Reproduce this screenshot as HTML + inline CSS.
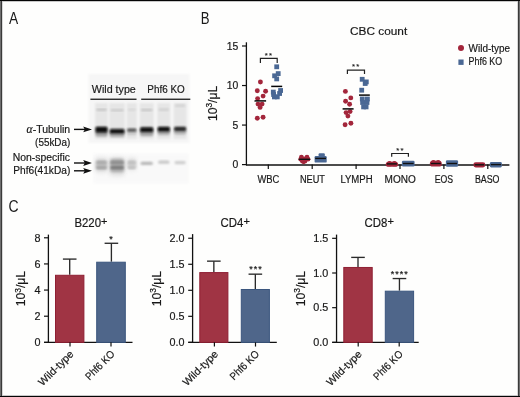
<!DOCTYPE html>
<html><head><meta charset="utf-8"><style>
html,body{margin:0;padding:0;background:#fefefd;overflow:hidden;}
svg{display:block;font-family:"Liberation Sans", sans-serif;will-change:transform;}
text{stroke:#111;stroke-width:0.18px;}
</style></head><body>
<svg width="520" height="397" viewBox="0 0 520 397">
<rect x="0" y="0" width="520" height="397" fill="#fefefd" />
<rect x="0" y="0" width="1" height="397" fill="#6e6e6e" />
<rect x="1" y="0" width="1" height="397" fill="#3a3a3a" />
<rect x="2" y="0" width="1" height="397" fill="#d8d8d8" />
<rect x="519" y="0" width="1" height="397" fill="#6e6e6e" />
<rect x="518" y="0" width="1" height="397" fill="#3a3a3a" />
<rect x="517" y="0" width="1" height="397" fill="#d8d8d8" />
<rect x="0" y="0" width="520" height="1" fill="#050505" />
<rect x="2" y="1" width="516" height="1" fill="#c8c8c8" />
<rect x="0" y="396" width="520" height="1" fill="#050505" />
<rect x="2" y="395" width="516" height="1" fill="#c8c8c8" />
<text x="9.07" y="23.8" font-size="15.8" text-anchor="start" fill="#1a1a1a" textLength="9.2" lengthAdjust="spacingAndGlyphs" style="stroke-width:0">A</text>
<text x="200.72" y="23.6" font-size="16.2" text-anchor="start" fill="#1a1a1a" textLength="8.8" lengthAdjust="spacingAndGlyphs" style="stroke-width:0">B</text>
<text x="8.45" y="211.5" font-size="16.2" text-anchor="start" fill="#1a1a1a" textLength="10.1" lengthAdjust="spacingAndGlyphs" style="stroke-width:0">C</text>
<defs><filter id="b1" x="-20%" y="-50%" width="140%" height="200%"><feGaussianBlur stdDeviation="1.2"/></filter><filter id="b2" x="-20%" y="-50%" width="140%" height="200%"><feGaussianBlur stdDeviation="2"/></filter><filter id="b4" x="-20%" y="-80%" width="140%" height="260%"><feGaussianBlur stdDeviation="1.5"/></filter><filter id="b5" x="-20%" y="-50%" width="140%" height="200%"><feGaussianBlur stdDeviation="0.85"/></filter><filter id="b3" x="-20%" y="-20%" width="140%" height="140%"><feGaussianBlur stdDeviation="0.8"/></filter></defs>
<rect x="88.5" y="74" width="101" height="69" fill="#f6f6f6" filter="url(#b3)"/>
<rect x="93.5" y="153.5" width="95.5" height="30" fill="#f9f9f9" filter="url(#b3)"/>
<rect x="95.10000000000001" y="103" width="12.799999999999988" height="36" fill="#e6e6e6" filter="url(#b1)"/>
<rect x="109.3" y="103" width="15.6" height="36" fill="#e6e6e6" filter="url(#b1)"/>
<rect x="126.7" y="103" width="10.199999999999994" height="36" fill="#e6e6e6" filter="url(#b1)"/>
<rect x="139.7" y="103" width="14.000000000000005" height="36" fill="#e6e6e6" filter="url(#b1)"/>
<rect x="157.29999999999998" y="103" width="13.000000000000005" height="36" fill="#e6e6e6" filter="url(#b1)"/>
<rect x="173.7" y="103" width="12.799999999999988" height="36" fill="#e6e6e6" filter="url(#b1)"/>
<rect x="96.4" y="108.6" width="10.199999999999989" height="2.4" rx="1" fill="#c6c6c6" filter="url(#b3)"/>
<rect x="110.6" y="109.0" width="13.0" height="2.4" rx="1" fill="#cbcbcb" filter="url(#b3)"/>
<rect x="128.0" y="108.6" width="7.599999999999994" height="2.4" rx="1" fill="#d8d8d8" filter="url(#b3)"/>
<rect x="141.0" y="108.8" width="11.400000000000006" height="2.4" rx="1" fill="#c6c6c6" filter="url(#b3)"/>
<rect x="158.6" y="108.4" width="10.400000000000006" height="2.4" rx="1" fill="#cdcdcd" filter="url(#b3)"/>
<rect x="175.0" y="104.4" width="10.199999999999989" height="2.4" rx="1" fill="#d0d0d0" filter="url(#b3)"/>
<rect x="95.4" y="126.5" width="12.199999999999989" height="10" rx="2" fill="#a0a0a0" filter="url(#b1)"/>
<rect x="109.6" y="128.5" width="15.0" height="8.5" rx="2" fill="#a8a8a8" filter="url(#b1)"/>
<rect x="127.0" y="128" width="9.599999999999994" height="7" rx="2" fill="#c4c4c4" filter="url(#b1)"/>
<rect x="140.0" y="127" width="13.400000000000006" height="9" rx="2" fill="#a0a0a0" filter="url(#b1)"/>
<rect x="157.6" y="126.5" width="12.400000000000006" height="8.5" rx="2" fill="#aaaaaa" filter="url(#b1)"/>
<rect x="174.0" y="126.5" width="12.199999999999989" height="8" rx="2" fill="#b0b0b0" filter="url(#b1)"/>
<rect x="95.7" y="127.0" width="11.599999999999989" height="5.6" rx="1.2" fill="#080808" filter="url(#b5)"/>
<rect x="109.89999999999999" y="129.2" width="14.4" height="4.4" rx="1.2" fill="#0e0e0e" filter="url(#b5)"/>
<rect x="127.3" y="128.7" width="8.999999999999995" height="2.8" rx="1.2" fill="#4a4a4a" filter="url(#b5)"/>
<rect x="140.3" y="127.5" width="12.800000000000006" height="4.6" rx="1.2" fill="#0c0c0c" filter="url(#b5)"/>
<rect x="157.9" y="127.0" width="11.800000000000006" height="4.6" rx="1.2" fill="#101010" filter="url(#b5)"/>
<rect x="174.3" y="127.0" width="11.599999999999989" height="4.0" rx="1.2" fill="#262626" filter="url(#b5)"/>
<rect x="95.4" y="157" width="12.199999999999989" height="16" rx="3" fill="#e6e6e6" filter="url(#b2)"/>
<rect x="109.6" y="157" width="15.0" height="19" rx="3" fill="#e0e0e0" filter="url(#b2)"/>
<rect x="127.0" y="157" width="9.599999999999994" height="14" rx="3" fill="#eaeaea" filter="url(#b2)"/>
<rect x="95.9" y="160" width="11.199999999999989" height="10" rx="2.5" fill="#bdbdbd" filter="url(#b4)"/>
<rect x="110.1" y="159" width="14.0" height="13" rx="2.5" fill="#a4a4a4" filter="url(#b4)"/>
<rect x="127.5" y="160" width="8.599999999999994" height="8.5" rx="2.5" fill="#cdcdcd" filter="url(#b4)"/>
<rect x="96.4" y="161.3" width="10.199999999999989" height="2.4" rx="1.2" fill="#a8a8a8" filter="url(#b3)"/>
<rect x="96.4" y="166.2" width="10.199999999999989" height="2.8" rx="1.2" fill="#a4a4a4" filter="url(#b3)"/>
<rect x="110.6" y="161.3" width="13.0" height="2.4" rx="1.2" fill="#8a8a8a" filter="url(#b3)"/>
<rect x="110.6" y="166.2" width="13.0" height="2.8" rx="1.2" fill="#787878" filter="url(#b3)"/>
<rect x="128.0" y="161.3" width="7.599999999999994" height="2.4" rx="1.2" fill="#bdbdbd" filter="url(#b3)"/>
<rect x="128.0" y="166.2" width="7.599999999999994" height="2.8" rx="1.2" fill="#c0c0c0" filter="url(#b3)"/>
<rect x="140.5" y="161.8" width="12.400000000000006" height="3.2" rx="1.6" fill="#b8b8b8" filter="url(#b1)"/>
<rect x="158.1" y="160.6" width="11.400000000000006" height="3.2" rx="1.6" fill="#c8c8c8" filter="url(#b1)"/>
<rect x="174.5" y="161.0" width="11.199999999999989" height="3.2" rx="1.6" fill="#cecece" filter="url(#b1)"/>
<text x="91.8" y="92.8" font-size="10.8" text-anchor="start" fill="#1a1a1a" textLength="44.0" lengthAdjust="spacingAndGlyphs" >Wild type</text>
<text x="147.3" y="92.8" font-size="10.8" text-anchor="start" fill="#1a1a1a" textLength="37.4" lengthAdjust="spacingAndGlyphs" >Phf6 KO</text>
<rect x="90.4" y="98.6" width="46.1" height="1.3" fill="#1a1a1a" />
<rect x="141.2" y="98.6" width="49.1" height="1.3" fill="#1a1a1a" />
<text x="70.2" y="132.7" font-size="10.4" text-anchor="end" fill="#1a1a1a" textLength="43.6" lengthAdjust="spacingAndGlyphs" ><tspan font-family="Liberation Serif" font-style="italic" font-size="11.5">&#945;</tspan>-Tubulin</text>
<text x="70.3" y="145.6" font-size="10.4" text-anchor="end" fill="#1a1a1a" textLength="35.2" lengthAdjust="spacingAndGlyphs" >(55kDa)</text>
<text x="70.0" y="161.3" font-size="10.4" text-anchor="end" fill="#1a1a1a" textLength="57.2" lengthAdjust="spacingAndGlyphs" >Non-specific</text>
<text x="70.3" y="174.1" font-size="10.4" text-anchor="end" fill="#1a1a1a" textLength="57.0" lengthAdjust="spacingAndGlyphs" >Phf6(41kDa)</text>
<line x1="74" y1="129.4" x2="88" y2="129.4" stroke="#111" stroke-width="1.4"/>
<path d="M92,129.4 L83.2,126.5 L84.8,129.4 L83.2,132.3 Z" fill="#111"/>
<line x1="74" y1="163.0" x2="88" y2="163.0" stroke="#111" stroke-width="1.4"/>
<path d="M92,163.0 L83.2,160.1 L84.8,163.0 L83.2,165.9 Z" fill="#111"/>
<line x1="74" y1="170.8" x2="88" y2="170.8" stroke="#111" stroke-width="1.4"/>
<path d="M92,170.8 L83.2,167.9 L84.8,170.8 L83.2,173.70000000000002 Z" fill="#111"/>
<text x="378.6" y="35.4" font-size="11.8" text-anchor="middle" fill="#1a1a1a" textLength="57.2" lengthAdjust="spacingAndGlyphs" >CBC count</text>
<line x1="246.4" y1="42.3" x2="246.4" y2="165.2" stroke="#111" stroke-width="1.3"/>
<line x1="242" y1="45.99499999999999" x2="246.4" y2="45.99499999999999" stroke="#111" stroke-width="1.2"/>
<text x="238.2" y="49.69499999999999" font-size="10.4" text-anchor="end" fill="#1a1a1a" >15</text>
<line x1="242" y1="85.53" x2="246.4" y2="85.53" stroke="#111" stroke-width="1.2"/>
<text x="238.2" y="89.23" font-size="10.4" text-anchor="end" fill="#1a1a1a" >10</text>
<line x1="242" y1="125.065" x2="246.4" y2="125.065" stroke="#111" stroke-width="1.2"/>
<text x="238.2" y="128.765" font-size="10.4" text-anchor="end" fill="#1a1a1a" >5</text>
<line x1="242" y1="164.6" x2="246.4" y2="164.6" stroke="#111" stroke-width="1.2"/>
<text x="238.2" y="168.29999999999998" font-size="10.4" text-anchor="end" fill="#1a1a1a" >0</text>
<line x1="246" y1="164.9" x2="509.4" y2="164.9" stroke="#111" stroke-width="1.5"/>
<line x1="268.3" y1="164.6" x2="268.3" y2="169" stroke="#111" stroke-width="1.2"/>
<text x="268.4" y="182.5" font-size="10" text-anchor="middle" fill="#1a1a1a" textLength="21.9" lengthAdjust="spacingAndGlyphs" >WBC</text>
<line x1="312.2" y1="164.6" x2="312.2" y2="169" stroke="#111" stroke-width="1.2"/>
<text x="312.4" y="182.5" font-size="10" text-anchor="middle" fill="#1a1a1a" textLength="25.0" lengthAdjust="spacingAndGlyphs" >NEUT</text>
<line x1="356.1" y1="164.6" x2="356.1" y2="169" stroke="#111" stroke-width="1.2"/>
<text x="356.5" y="182.5" font-size="10" text-anchor="middle" fill="#1a1a1a" textLength="32.2" lengthAdjust="spacingAndGlyphs" >LYMPH</text>
<line x1="400.0" y1="164.6" x2="400.0" y2="169" stroke="#111" stroke-width="1.2"/>
<text x="400.2" y="182.5" font-size="10" text-anchor="middle" fill="#1a1a1a" textLength="31.2" lengthAdjust="spacingAndGlyphs" >MONO</text>
<line x1="443.9" y1="164.6" x2="443.9" y2="169" stroke="#111" stroke-width="1.2"/>
<text x="443.9" y="182.5" font-size="10" text-anchor="middle" fill="#1a1a1a" textLength="18.4" lengthAdjust="spacingAndGlyphs" >EOS</text>
<line x1="487.8" y1="164.6" x2="487.8" y2="169" stroke="#111" stroke-width="1.2"/>
<text x="487.2" y="182.5" font-size="10" text-anchor="middle" fill="#1a1a1a" textLength="24.6" lengthAdjust="spacingAndGlyphs" >BASO</text>
<text transform="translate(216.7,103.4) rotate(-90)" font-size="12.2" text-anchor="middle" fill="#1a1a1a">10<tspan font-size="8.4" dy="-4.8">3</tspan><tspan dy="4.8">/&#956;L</tspan></text>
<circle cx="461" cy="48.1" r="3" fill="#a3263b"/>
<text x="468.6" y="51.6" font-size="10" text-anchor="start" fill="#1a1a1a" textLength="41.4" lengthAdjust="spacingAndGlyphs" >Wild-type</text>
<rect x="458.4" y="59.5" width="5.2" height="5.4" fill="#4a6894" />
<text x="468.6" y="65.2" font-size="10" text-anchor="start" fill="#1a1a1a" textLength="33.6" lengthAdjust="spacingAndGlyphs" >Phf6 KO</text>
<path d="M260.4,62.9 L260.4,58.4 L277.2,58.4 L277.2,62.9" fill="none" stroke="#222" stroke-width="1.2"/>
<text x="269.0" y="57.5" font-size="7.8" text-anchor="middle" fill="#1a1a1a" letter-spacing="1.1" style="stroke-width:0.1">**</text>
<path d="M347.4,74.0 L347.4,70.2 L364.5,70.2 L364.5,74.0" fill="none" stroke="#222" stroke-width="1.2"/>
<text x="356.2" y="69.1" font-size="7.8" text-anchor="middle" fill="#1a1a1a" letter-spacing="1.1" style="stroke-width:0.1">**</text>
<path d="M391.7,156.8 L391.7,153.5 L408.4,153.5 L408.4,156.8" fill="none" stroke="#222" stroke-width="1.2"/>
<text x="400.4" y="152.5" font-size="7.8" text-anchor="middle" fill="#1a1a1a" letter-spacing="1.1" style="stroke-width:0.1">**</text>
<circle cx="260.4" cy="82" r="2.45" fill="#a3263b"/>
<circle cx="257.3" cy="90.8" r="2.45" fill="#a3263b"/>
<circle cx="265.6" cy="91.2" r="2.45" fill="#a3263b"/>
<circle cx="263.1" cy="96.1" r="2.45" fill="#a3263b"/>
<circle cx="257.6" cy="98.6" r="2.45" fill="#a3263b"/>
<circle cx="258" cy="104.1" r="2.45" fill="#a3263b"/>
<circle cx="262.1" cy="104.1" r="2.45" fill="#a3263b"/>
<circle cx="260.1" cy="107.4" r="2.45" fill="#a3263b"/>
<circle cx="257.3" cy="118.2" r="2.45" fill="#a3263b"/>
<circle cx="263.1" cy="117.2" r="2.45" fill="#a3263b"/>
<line x1="254.5" y1="100.9" x2="266.1" y2="100.9" stroke="#050505" stroke-width="1.5"/>
<rect x="274.3" y="64.39999999999999" width="4.8" height="4.8" fill="#4a6894"/>
<rect x="275.8" y="71.19999999999999" width="4.8" height="4.8" fill="#4a6894"/>
<rect x="272.20000000000005" y="73.39999999999999" width="4.8" height="4.8" fill="#4a6894"/>
<rect x="274.3" y="76.5" width="4.8" height="4.8" fill="#4a6894"/>
<rect x="270.90000000000003" y="89.69999999999999" width="4.8" height="4.8" fill="#4a6894"/>
<rect x="271.20000000000005" y="92.1" width="4.8" height="4.8" fill="#4a6894"/>
<rect x="278.20000000000005" y="88.1" width="4.8" height="4.8" fill="#4a6894"/>
<rect x="277.20000000000005" y="91.1" width="4.8" height="4.8" fill="#4a6894"/>
<rect x="272.0" y="94.5" width="4.8" height="4.8" fill="#4a6894"/>
<rect x="274.90000000000003" y="94.5" width="4.8" height="4.8" fill="#4a6894"/>
<line x1="271.2" y1="86.4" x2="282.2" y2="86.4" stroke="#050505" stroke-width="1.5"/>
<circle cx="345.4" cy="91.4" r="2.45" fill="#a3263b"/>
<circle cx="350.8" cy="97.9" r="2.45" fill="#a3263b"/>
<circle cx="345.6" cy="101.2" r="2.45" fill="#a3263b"/>
<circle cx="349.6" cy="104.2" r="2.45" fill="#a3263b"/>
<circle cx="346.1" cy="112.6" r="2.45" fill="#a3263b"/>
<circle cx="350.1" cy="111.6" r="2.45" fill="#a3263b"/>
<circle cx="347.9" cy="116.1" r="2.45" fill="#a3263b"/>
<circle cx="345.1" cy="124.7" r="2.45" fill="#a3263b"/>
<circle cx="350.9" cy="123.2" r="2.45" fill="#a3263b"/>
<line x1="342.6" y1="108.9" x2="353.6" y2="108.9" stroke="#050505" stroke-width="1.5"/>
<rect x="359.8" y="76.89999999999999" width="4.8" height="4.8" fill="#4a6894"/>
<rect x="363.90000000000003" y="79.5" width="4.8" height="4.8" fill="#4a6894"/>
<rect x="362.8" y="81.1" width="4.8" height="4.8" fill="#4a6894"/>
<rect x="359.3" y="87.8" width="4.8" height="4.8" fill="#4a6894"/>
<rect x="359.90000000000003" y="96.6" width="4.8" height="4.8" fill="#4a6894"/>
<rect x="365.0" y="96.6" width="4.8" height="4.8" fill="#4a6894"/>
<rect x="360.20000000000005" y="100.1" width="4.8" height="4.8" fill="#4a6894"/>
<rect x="364.6" y="100.1" width="4.8" height="4.8" fill="#4a6894"/>
<rect x="361.20000000000005" y="104.5" width="4.8" height="4.8" fill="#4a6894"/>
<rect x="363.70000000000005" y="104.5" width="4.8" height="4.8" fill="#4a6894"/>
<line x1="359" y1="95.1" x2="369.8" y2="95.1" stroke="#050505" stroke-width="1.5"/>
<circle cx="301.4" cy="157.2" r="2.4" fill="#a3263b"/>
<circle cx="307.0" cy="157.2" r="2.4" fill="#a3263b"/>
<circle cx="300.6" cy="159.3" r="2.3" fill="#a3263b"/>
<circle cx="303.4" cy="158.9" r="2.3" fill="#a3263b"/>
<circle cx="305.4" cy="158.9" r="2.3" fill="#a3263b"/>
<circle cx="308.1" cy="159.3" r="2.3" fill="#a3263b"/>
<circle cx="302.3" cy="161.2" r="2.2" fill="#a3263b"/>
<circle cx="305.1" cy="161.2" r="2.2" fill="#a3263b"/>
<circle cx="303.6" cy="162.6" r="1.7" fill="#a3263b"/>
<line x1="298.8" y1="159.3" x2="310.2" y2="159.3" stroke="#111" stroke-width="1.4"/>
<rect x="314.6" y="156.0" width="12.1" height="6.6" fill="#4a6894" rx="1.2"/>
<rect x="318.6" y="153.2" width="6.2" height="4.0" fill="#4a6894" rx="1"/>
<line x1="315.2" y1="158.4" x2="326.0" y2="158.4" stroke="#111" stroke-width="1.4"/>
<rect x="385.8" y="161.7" width="12.300000000000011" height="5.100000000000017" fill="#a3263b" rx="2.5500000000000087"/>
<circle cx="389.49" cy="163.7" r="2.6" fill="#a3263b"/>
<circle cx="394.41" cy="163.7" r="2.6" fill="#a3263b"/>
<line x1="386.9" y1="163.9" x2="396.9" y2="163.9" stroke="#111" stroke-width="1.4"/>
<rect x="401.9" y="160.8" width="12.700000000000045" height="5.799999999999983" fill="#4a6894" rx="1.3"/>
<line x1="403.0" y1="163.5" x2="413.6" y2="163.5" stroke="#111" stroke-width="1.4"/>
<rect x="429.8" y="160.7" width="12.0" height="5.9" fill="#a3263b" rx="2.95"/>
<circle cx="433.40000000000003" cy="162.7" r="2.6" fill="#a3263b"/>
<circle cx="438.2" cy="162.7" r="2.6" fill="#a3263b"/>
<line x1="430.8" y1="163.5" x2="440.8" y2="163.5" stroke="#111" stroke-width="1.4"/>
<rect x="445.9" y="160.3" width="12.200000000000045" height="6.5" fill="#4a6894" rx="1.3"/>
<line x1="447.0" y1="163.5" x2="457.0" y2="163.5" stroke="#111" stroke-width="1.4"/>
<rect x="473.4" y="162.2" width="11.900000000000034" height="5.200000000000017" fill="#a3263b" rx="2.3000000000000087"/>
<line x1="474.6" y1="164.8" x2="484.2" y2="164.8" stroke="#111" stroke-width="1.4"/>
<rect x="489.9" y="162.0" width="11.900000000000034" height="5.400000000000006" fill="#4a6894" rx="1.3"/>
<line x1="490.8" y1="164.6" x2="501.0" y2="164.6" stroke="#111" stroke-width="1.4"/>
<line x1="48.4" y1="234.6" x2="48.4" y2="342.95000000000005" stroke="#111" stroke-width="1.3"/>
<line x1="44.1" y1="342.35" x2="132.5" y2="342.35" stroke="#111" stroke-width="1.4"/>
<line x1="44.0" y1="342.35" x2="48.4" y2="342.35" stroke="#111" stroke-width="1.2"/>
<text x="40.6" y="346.15000000000003" font-size="10.8" text-anchor="end" fill="#1a1a1a" >0</text>
<line x1="44.0" y1="316.21000000000004" x2="48.4" y2="316.21000000000004" stroke="#111" stroke-width="1.2"/>
<text x="40.6" y="320.01000000000005" font-size="10.8" text-anchor="end" fill="#1a1a1a" >2</text>
<line x1="44.0" y1="290.07000000000005" x2="48.4" y2="290.07000000000005" stroke="#111" stroke-width="1.2"/>
<text x="40.6" y="293.87000000000006" font-size="10.8" text-anchor="end" fill="#1a1a1a" >4</text>
<line x1="44.0" y1="263.93" x2="48.4" y2="263.93" stroke="#111" stroke-width="1.2"/>
<text x="40.6" y="267.73" font-size="10.8" text-anchor="end" fill="#1a1a1a" >6</text>
<line x1="44.0" y1="237.79000000000002" x2="48.4" y2="237.79000000000002" stroke="#111" stroke-width="1.2"/>
<text x="40.6" y="241.59000000000003" font-size="10.8" text-anchor="end" fill="#1a1a1a" >8</text>
<text x="74.4" y="227.0" font-size="12" fill="#1a1a1a" textLength="26.599999999999994" lengthAdjust="spacingAndGlyphs">B220</text>
<text x="101.1" y="224.7" font-size="11" fill="#1a1a1a">+</text>
<text transform="translate(25.4,288.6) rotate(-90)" font-size="12.2" text-anchor="middle" fill="#1a1a1a">10<tspan font-size="8.4" dy="-4.8">3</tspan><tspan dy="4.8">/&#956;L</tspan></text>
<line x1="69.7" y1="259.0941" x2="69.7" y2="274.7781" stroke="#2a2a2a" stroke-width="1.35"/>
<line x1="62.900000000000006" y1="259.0941" x2="76.5" y2="259.0941" stroke="#2a2a2a" stroke-width="1.35"/>
<rect x="55.5" y="275.2781" width="28.400000000000006" height="67.07190000000003" fill="#a03444" stroke="#8f1f33" stroke-width="1"/>
<line x1="70" y1="342.35" x2="70" y2="346.55" stroke="#111" stroke-width="1.2"/>
<line x1="111.4" y1="243.2794" x2="111.4" y2="261.7081" stroke="#2a2a2a" stroke-width="1.35"/>
<line x1="104.60000000000001" y1="243.2794" x2="118.2" y2="243.2794" stroke="#2a2a2a" stroke-width="1.35"/>
<rect x="96.7" y="262.2081" width="28.599999999999994" height="80.14190000000002" fill="#4f668a" stroke="#3b567e" stroke-width="1"/>
<line x1="111" y1="342.35" x2="111" y2="346.55" stroke="#111" stroke-width="1.2"/>
<text x="111.5" y="241.5" font-size="9" text-anchor="middle" fill="#1a1a1a" letter-spacing="1.0">*</text>
<line x1="192.6" y1="234.1" x2="192.6" y2="342.95000000000005" stroke="#111" stroke-width="1.3"/>
<line x1="188.29999999999998" y1="342.35" x2="276.8" y2="342.35" stroke="#111" stroke-width="1.4"/>
<line x1="188.2" y1="342.35" x2="192.6" y2="342.35" stroke="#111" stroke-width="1.2"/>
<text x="184.4" y="346.15000000000003" font-size="10.8" text-anchor="end" fill="#1a1a1a" >0.0</text>
<line x1="188.2" y1="316.32500000000005" x2="192.6" y2="316.32500000000005" stroke="#111" stroke-width="1.2"/>
<text x="184.4" y="320.12500000000006" font-size="10.8" text-anchor="end" fill="#1a1a1a" >0.5</text>
<line x1="188.2" y1="290.3" x2="192.6" y2="290.3" stroke="#111" stroke-width="1.2"/>
<text x="184.4" y="294.1" font-size="10.8" text-anchor="end" fill="#1a1a1a" >1.0</text>
<line x1="188.2" y1="264.27500000000003" x2="192.6" y2="264.27500000000003" stroke="#111" stroke-width="1.2"/>
<text x="184.4" y="268.07500000000005" font-size="10.8" text-anchor="end" fill="#1a1a1a" >1.5</text>
<line x1="188.2" y1="238.25000000000003" x2="192.6" y2="238.25000000000003" stroke="#111" stroke-width="1.2"/>
<text x="184.4" y="242.05000000000004" font-size="10.8" text-anchor="end" fill="#1a1a1a" >2.0</text>
<text x="220.5" y="227.0" font-size="12" fill="#1a1a1a" textLength="22.80000000000001" lengthAdjust="spacingAndGlyphs">CD4</text>
<text x="243.4" y="224.7" font-size="11" fill="#1a1a1a">+</text>
<text transform="translate(160.9,288.6) rotate(-90)" font-size="12.2" text-anchor="middle" fill="#1a1a1a">10<tspan font-size="8.4" dy="-4.8">3</tspan><tspan dy="4.8">/&#956;L</tspan></text>
<line x1="213.85000000000002" y1="261.15200000000004" x2="213.85000000000002" y2="272.08250000000004" stroke="#2a2a2a" stroke-width="1.35"/>
<line x1="207.05" y1="261.15200000000004" x2="220.65000000000003" y2="261.15200000000004" stroke="#2a2a2a" stroke-width="1.35"/>
<rect x="199.8" y="272.58250000000004" width="28.099999999999994" height="69.76749999999998" fill="#a03444" stroke="#8f1f33" stroke-width="1"/>
<line x1="214.4" y1="342.35" x2="214.4" y2="346.55" stroke="#111" stroke-width="1.2"/>
<line x1="255.35" y1="274.16450000000003" x2="255.35" y2="288.99875000000003" stroke="#2a2a2a" stroke-width="1.35"/>
<line x1="248.54999999999998" y1="274.16450000000003" x2="262.15" y2="274.16450000000003" stroke="#2a2a2a" stroke-width="1.35"/>
<rect x="241.3" y="289.49875000000003" width="28.099999999999966" height="52.85124999999999" fill="#4f668a" stroke="#3b567e" stroke-width="1"/>
<line x1="255.5" y1="342.35" x2="255.5" y2="346.55" stroke="#111" stroke-width="1.2"/>
<text x="255.9" y="272.4" font-size="9" text-anchor="middle" fill="#1a1a1a" letter-spacing="1.0">***</text>
<line x1="336.55" y1="234.6" x2="336.55" y2="342.95000000000005" stroke="#111" stroke-width="1.3"/>
<line x1="332.25" y1="342.35" x2="418.7" y2="342.35" stroke="#111" stroke-width="1.4"/>
<line x1="332.15000000000003" y1="342.35" x2="336.55" y2="342.35" stroke="#111" stroke-width="1.2"/>
<text x="328.3" y="346.15000000000003" font-size="10.8" text-anchor="end" fill="#1a1a1a" >0.0</text>
<line x1="332.15000000000003" y1="307.675" x2="336.55" y2="307.675" stroke="#111" stroke-width="1.2"/>
<text x="328.3" y="311.475" font-size="10.8" text-anchor="end" fill="#1a1a1a" >0.5</text>
<line x1="332.15000000000003" y1="273.0" x2="336.55" y2="273.0" stroke="#111" stroke-width="1.2"/>
<text x="328.3" y="276.8" font-size="10.8" text-anchor="end" fill="#1a1a1a" >1.0</text>
<line x1="332.15000000000003" y1="238.32500000000005" x2="336.55" y2="238.32500000000005" stroke="#111" stroke-width="1.2"/>
<text x="328.3" y="242.12500000000006" font-size="10.8" text-anchor="end" fill="#1a1a1a" >1.5</text>
<text x="364.5" y="227.0" font-size="12" fill="#1a1a1a" textLength="22.80000000000001" lengthAdjust="spacingAndGlyphs">CD8</text>
<text x="387.40000000000003" y="224.7" font-size="11" fill="#1a1a1a">+</text>
<text transform="translate(304.9,288.6) rotate(-90)" font-size="12.2" text-anchor="middle" fill="#1a1a1a">10<tspan font-size="8.4" dy="-4.8">3</tspan><tspan dy="4.8">/&#956;L</tspan></text>
<line x1="358.0" y1="257.39625" x2="358.0" y2="266.96655000000004" stroke="#2a2a2a" stroke-width="1.35"/>
<line x1="351.2" y1="257.39625" x2="364.8" y2="257.39625" stroke="#2a2a2a" stroke-width="1.35"/>
<rect x="343.8" y="267.46655000000004" width="28.399999999999977" height="74.88344999999998" fill="#a03444" stroke="#8f1f33" stroke-width="1"/>
<line x1="358.2" y1="342.35" x2="358.2" y2="346.55" stroke="#111" stroke-width="1.2"/>
<line x1="399.45000000000005" y1="278.548" x2="399.45000000000005" y2="290.68425" stroke="#2a2a2a" stroke-width="1.35"/>
<line x1="392.65000000000003" y1="278.548" x2="406.25000000000006" y2="278.548" stroke="#2a2a2a" stroke-width="1.35"/>
<rect x="385.3" y="291.18425" width="28.30000000000001" height="51.16575" fill="#4f668a" stroke="#3b567e" stroke-width="1"/>
<line x1="399.2" y1="342.35" x2="399.2" y2="346.55" stroke="#111" stroke-width="1.2"/>
<text x="399.8" y="277" font-size="9" text-anchor="middle" fill="#1a1a1a" letter-spacing="1.0">****</text>
<text transform="translate(74.3,354.8) rotate(-45)" font-size="10.6" text-anchor="end" fill="#1a1a1a" textLength="45" lengthAdjust="spacingAndGlyphs">Wild-type</text>
<text transform="translate(115.3,354.8) rotate(-45)" font-size="10.6" text-anchor="end" fill="#1a1a1a" textLength="36.6" lengthAdjust="spacingAndGlyphs">Phf6 KO</text>
<text transform="translate(218.70000000000002,354.8) rotate(-45)" font-size="10.6" text-anchor="end" fill="#1a1a1a" textLength="45" lengthAdjust="spacingAndGlyphs">Wild-type</text>
<text transform="translate(259.8,354.8) rotate(-45)" font-size="10.6" text-anchor="end" fill="#1a1a1a" textLength="36.6" lengthAdjust="spacingAndGlyphs">Phf6 KO</text>
<text transform="translate(362.5,354.8) rotate(-45)" font-size="10.6" text-anchor="end" fill="#1a1a1a" textLength="45" lengthAdjust="spacingAndGlyphs">Wild-type</text>
<text transform="translate(403.5,354.8) rotate(-45)" font-size="10.6" text-anchor="end" fill="#1a1a1a" textLength="36.6" lengthAdjust="spacingAndGlyphs">Phf6 KO</text>
</svg>
</body></html>
